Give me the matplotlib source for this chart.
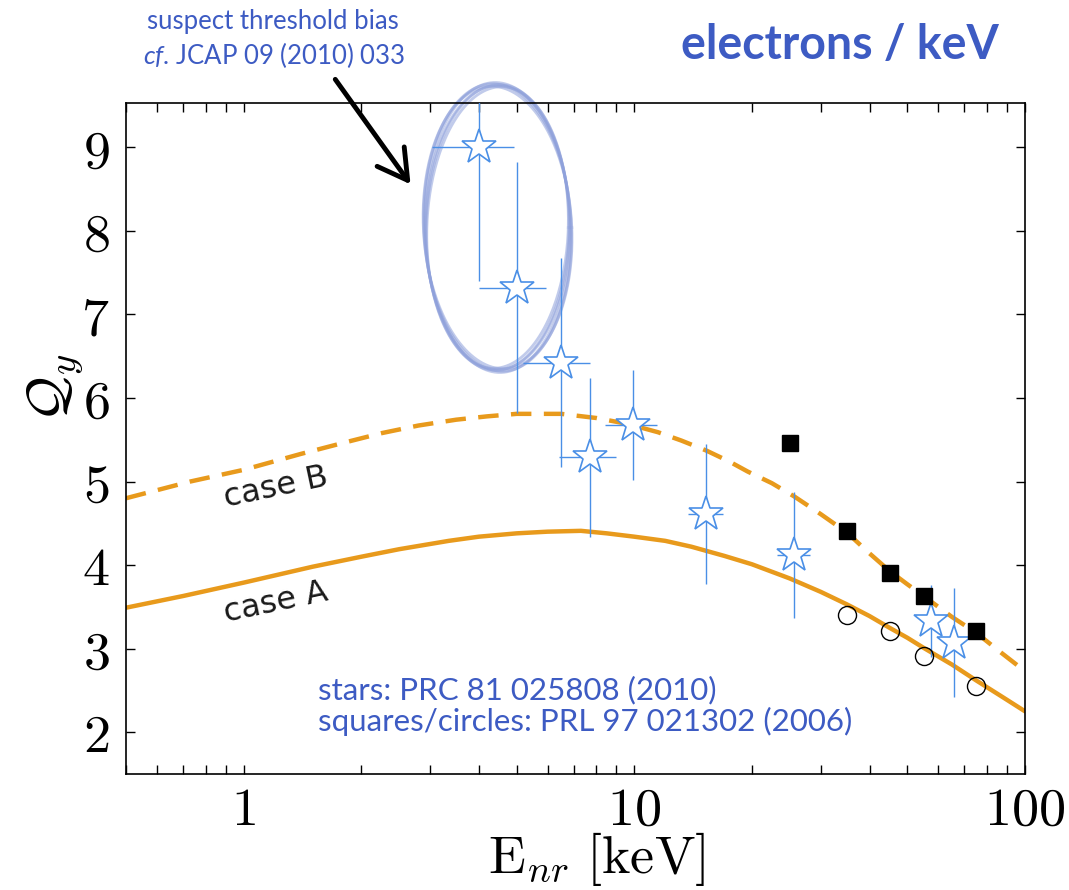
import numpy as np
import matplotlib
matplotlib.use("Agg")
import matplotlib.pyplot as plt
from matplotlib.ticker import FixedLocator, FuncFormatter, LogLocator, NullFormatter

plt.rcParams["mathtext.fontset"] = "cm"
plt.rcParams["mathtext.it"] = "Lato:italic"
plt.rcParams["mathtext.rm"] = "Lato"
plt.rcParams["font.family"] = ["Lato", "DejaVu Sans"]

ORANGE = "#E89A1C"
STAR = "#4A8FE6"
NOTE = "#3D5BC3"
RING = "#8FA1DB"

# stars: PRC 81 025808 (2010)
star_e = [4.0, 5.0, 6.5, 7.7, 9.9, 15.3, 25.7, 57.5, 66.0]
star_q = [9.0, 7.32, 6.42, 5.29, 5.68, 4.61, 4.12, 3.33, 3.07]
star_dq = [1.60, 1.50, 1.25, 0.95, 0.66, 0.84, 0.75, 0.43, 0.65]
star_de_lo = [0.97, 1.00, 1.30, 1.30, 1.50, 1.60, 2.5, 3.0, 3.0]
star_de_hi = [0.93, 0.95, 1.20, 1.30, 1.50, 1.60, 2.5, 3.0, 3.0]

# squares / circles: PRL 97 021302 (2006)
sq_e = [25, 35, 45, 55, 75]
sq_q = [5.46, 4.41, 3.91, 3.63, 3.21]
circ_e = [35, 45, 55, 75]
circ_q = [3.40, 3.21, 2.91, 2.55]

# model curves
caseA_e = [0.5, 0.7, 1, 1.5, 2, 2.5, 3.35, 4, 5, 6, 7.3, 8.5, 10, 12, 14, 17, 20, 25,
           30, 35, 40, 45, 50, 55, 65, 75, 87, 100]
caseA_q = [3.49, 3.63, 3.79, 3.98, 4.10, 4.19, 4.29, 4.34, 4.38, 4.40, 4.41, 4.38, 4.34,
           4.29, 4.22, 4.11, 4.01, 3.84, 3.68, 3.53, 3.39, 3.25, 3.13, 3.01, 2.81, 2.62,
           2.43, 2.25]
caseB_e = [0.5, 0.73, 1, 1.4, 1.86, 2.26, 2.8, 3.5, 4.2, 5, 6.5, 8, 9.6, 11.5, 13.2,
           15.3, 17.5, 19.5, 22.5, 25.7, 30, 35, 40, 45, 50, 55, 65, 75, 87, 100]
caseB_q = [4.80, 5.00, 5.14, 5.33, 5.48, 5.58, 5.67, 5.74, 5.78, 5.81, 5.81, 5.76, 5.69,
           5.59, 5.49, 5.37, 5.24, 5.12, 4.98, 4.82, 4.61, 4.39, 4.14, 3.93, 3.77, 3.63,
           3.38, 3.19, 2.95, 2.73]

x_ticks = [1, 10, 100]
y_ticks = [2, 3, 4, 5, 6, 7, 8, 9]

fig = plt.figure(figsize=(10.69, 8.90), dpi=100)
ax = fig.add_axes([126 / 1069, 1 - 774 / 890, 899 / 1069, 671 / 890])
ax.set_xscale("log")
ax.set_xlim(0.5, 100)
ax.set_ylim(1.5, 9.53)

ax.plot(caseA_e, caseA_q, color=ORANGE, lw=3.2, zorder=2, solid_capstyle="round")
ax.plot(caseB_e, caseB_q, color=ORANGE, lw=3.2, dashes=(4.6, 2.8), zorder=2)

ax.errorbar(star_e, star_q, yerr=star_dq, xerr=[star_de_lo, star_de_hi], fmt="none",
            ecolor=STAR, elinewidth=1.0, capsize=0, zorder=3)
ax.plot(star_e, star_q, ls="none", marker="*", ms=26, mfc="white", mec=STAR, mew=1.2,
        zorder=4)
ax.plot(sq_e, sq_q, ls="none", marker="s", ms=12, color="black", zorder=5)
ax.plot(circ_e, circ_q, ls="none", marker="o", ms=13, mfc="none", mec="black", mew=1.0,
        zorder=5)

# hand-drawn ring around the low-energy points
t = np.linspace(0, 2 * np.pi, 300)
strokes = [(0.0, 0.0, 0.0), (0.004, 0.02, 0.012), (-0.004, -0.015, -0.01),
           (0.002, 0.035, 0.006), (-0.002, 0.01, -0.004), (0.005, -0.01, 0.015)]
for da, db, rot in strokes:
    lx = 0.650 + (0.185 + da) * np.cos(t) - rot * np.sin(t)
    yy = 8.04 + (1.70 + db) * np.sin(t)
    ax.plot(10 ** lx, yy, color=RING, lw=2.0, alpha=0.55, clip_on=False, zorder=1)

ax.annotate("", xy=(2.70, 8.53), xytext=(1.70, 9.84), annotation_clip=False,
            arrowprops=dict(arrowstyle="->,head_length=0.7,head_width=0.4",
                            color="black", lw=3.5, mutation_scale=30))

ax.xaxis.set_major_locator(FixedLocator(x_ticks))
ax.xaxis.set_minor_locator(LogLocator(base=10, subs=np.arange(2, 10)))
ax.xaxis.set_minor_formatter(NullFormatter())
ax.xaxis.set_major_formatter(FuncFormatter(lambda v, _: f"${v:g}$"))
ax.yaxis.set_major_locator(FixedLocator(y_ticks))
ax.yaxis.set_major_formatter(FuncFormatter(lambda v, _: f"${v:g}$"))
ax.tick_params(which="both", direction="in", top=True, right=True, length=6.5, width=1.0,
               labelsize=39)
ax.tick_params(axis="x", pad=8)
ax.tick_params(axis="y", pad=12)
for s in ax.spines.values():
    s.set_linewidth(1.2)

ax.set_xlabel(r"$\mathrm{E}_{nr}\ [\mathrm{keV}]$", fontsize=39)
ax.xaxis.set_label_coords(0.524, -0.084)
fig.text(55 / 1069, 1 - 388 / 890, r"$\mathcal{Q}_y$", fontsize=40, rotation=90,
         ha="center", va="center")

fig.text(0.934, 0.949, "electrons / keV", fontsize=33.5, fontweight="bold", color=NOTE,
         ha="right", va="center")
fig.text(273 / 1069, 0.976, "suspect threshold bias", fontsize=18.5, color=NOTE,
         ha="center", va="center")
fig.text(274 / 1069, 0.938, r"$\mathit{cf}$. JCAP 09 (2010) 033", fontsize=18.5,
         color=NOTE, ha="center", va="center", math_fontfamily="custom")

ax.text(0.2136, 0.101, "stars: PRC 81 025808 (2010)\nsquares/circles: PRL 97 021302 (2006)",
        transform=ax.transAxes, fontsize=22.5, color=NOTE, ha="left", va="center",
        linespacing=1.1)

ax.text(1.21, 4.93, "case B", fontsize=23, color="#1a1a1a", rotation=12,
        ha="center", va="center", family="DejaVu Sans")
ax.text(1.21, 3.55, "case A", fontsize=23, color="#1a1a1a", rotation=12,
        ha="center", va="center", family="DejaVu Sans")

fig.savefig("out.png", dpi=100)
